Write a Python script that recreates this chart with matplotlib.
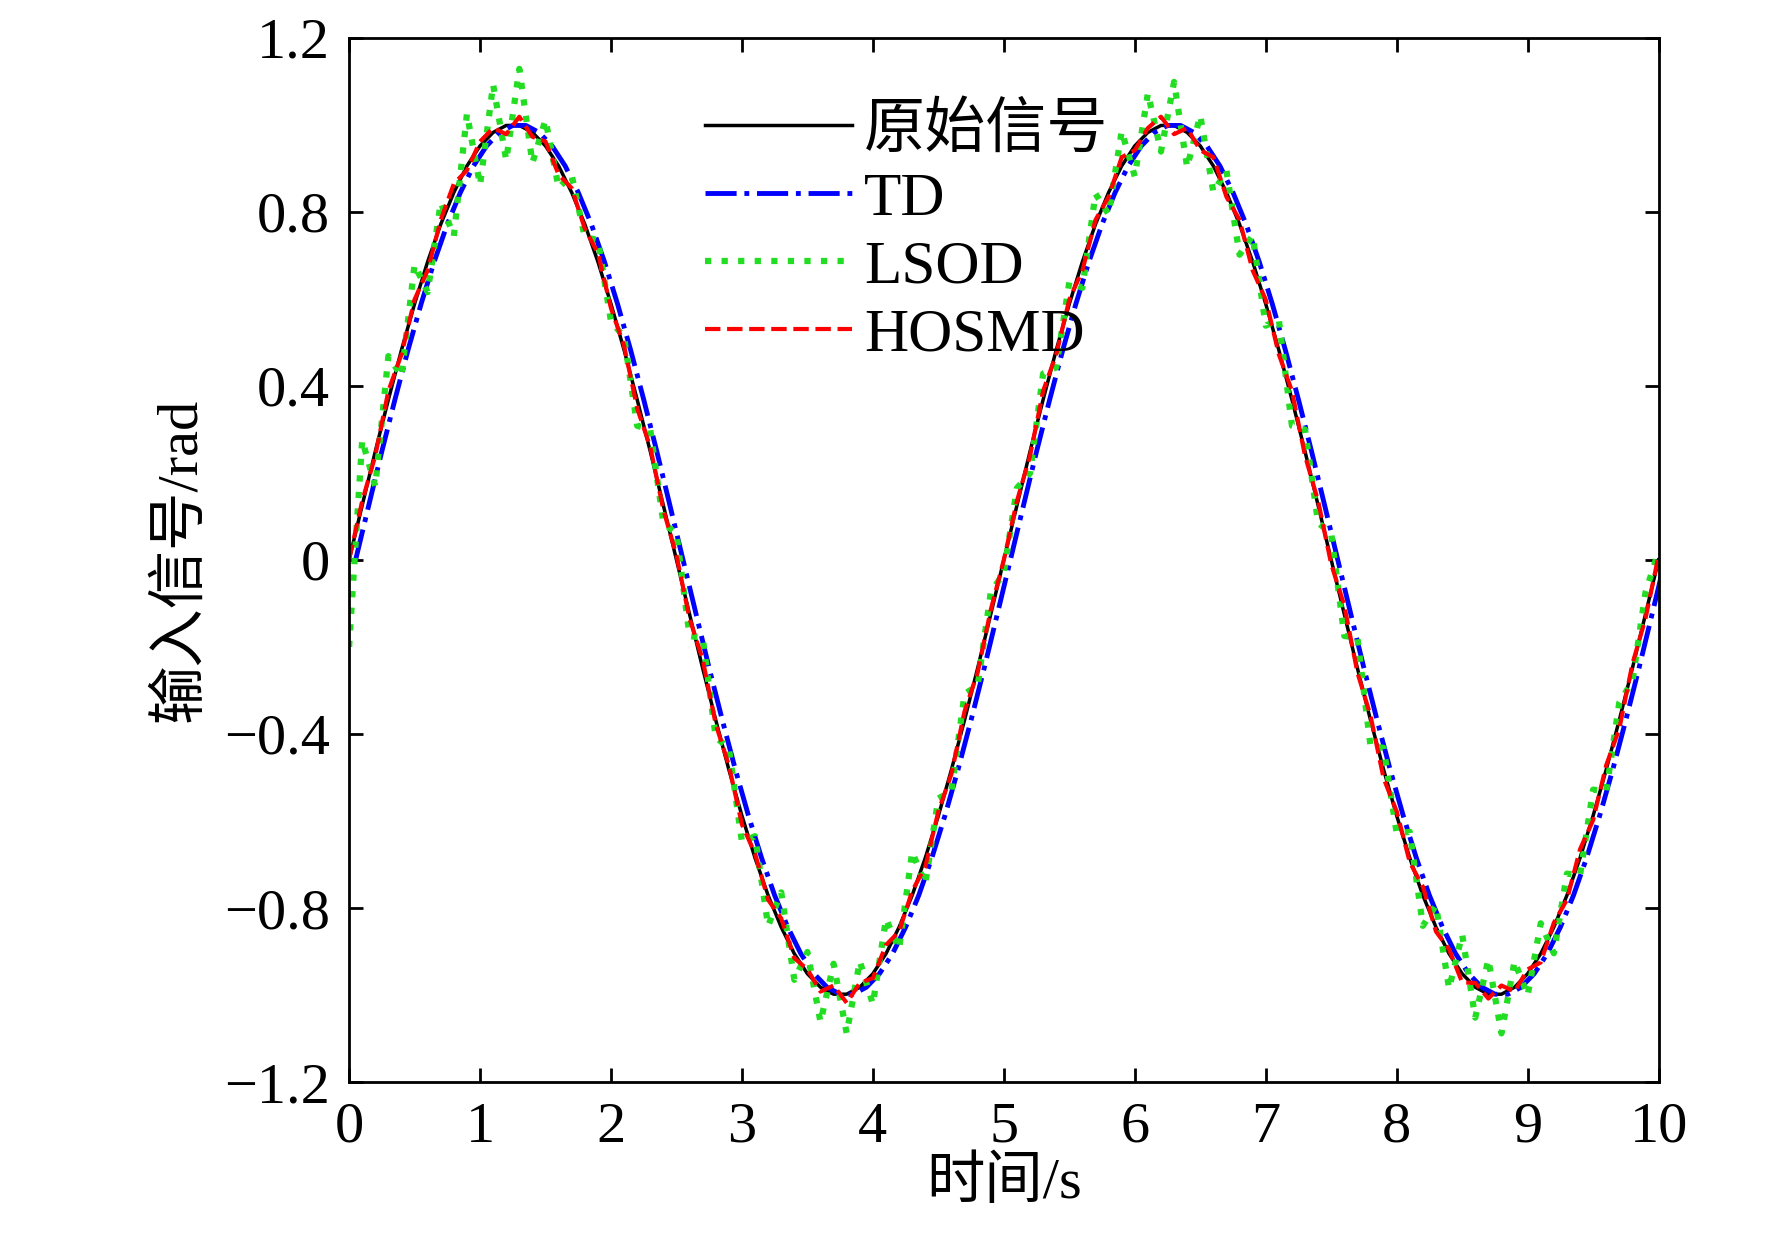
import matplotlib.pyplot as plt
import numpy as np

plt.rcParams['font.family'] = ['Liberation Serif', 'Noto Sans CJK SC']

# time samples, 0.1 s step
time = np.arange(101) * 0.1
# one half period of the original signal (t = 0 .. 2.5 s)
half = [0, .125, .249, .368, .482, .588, .685, .771, .844, .905, .951, .982, .998,
        .998, .982, .951, .905, .844, .771, .685, .588, .482, .368, .249, .125, 0]
period = half + [-v for v in half[1:]]
orig = period + period[1:]

# TD lags the original slightly
td_delay = 0.05
# LSOD noise around the original
lsod_noise = [-.20, .15, -.08, .10, -.06, .09, -.07, .05, -.10, .12, -.09, .11, -.08,
              .13, -.07, .06, -.05, .04, -.03, .05, -.04, .03, -.06, .05, -.04, .06,
              -.05, .07, -.04, .05, -.06, .05, -.07, .08, -.06, .05, -.08, .07, -.09,
              .06, -.07, .08, -.05, .10, -.06, .04, -.05, .06, -.04, .05, -.03,
              .04, -.05, .06, -.04, .05, -.06, .07, -.05, .08, -.07, .09, -.06, .10,
              -.08, .07, -.06, .05, -.07, .06, -.05, .07, -.06, .05, -.04, .06,
              -.05, .07, -.06, .05, -.04, .06, -.07, .05, -.08, .09, -.07, .08, -.09,
              .06, -.05, .07, -.06, .05, -.04, .06, -.05, .04, -.03, .05, .02]
hosmd_noise = [0, .01, -.01, .02, -.01, .01, -.02, .01, .02, -.01, .01, .01, -.02,
               .02, -.01, .01, -.02, .01, -.01, .02, -.01, .01, -.02, .01, -.01, .01,
               -.01, .02, -.01, .01, -.02, .01, -.01, .02, -.01, .01, -.01, .02, -.02,
               .01, -.01, .02, -.01, .01, -.02, .01, -.01, .02, -.01, .01, 0,
               .01, -.01, .02, -.01, .01, -.02, .01, -.01, .02, -.01, .01, .02, -.02,
               .01, -.01, .02, -.01, .01, -.02, .01, -.01, .02, -.01, .01, -.01,
               .02, -.01, .01, -.02, .01, -.01, .02, -.01, .01, -.02, .01, -.01, .02,
               -.01, .01, -.02, .01, -.01, .02, -.01, .01, -.02, .01, -.01, .01]

orig = np.array(orig)
lsod = orig + np.array(lsod_noise)
hosmd = orig + np.array(hosmd_noise)

fig = plt.figure(figsize=(17.72, 12.51), dpi=100)
ax = fig.add_axes([0.197, 0.135, 0.739, 0.835])
ax.plot(time, orig, color='black', lw=2.5, label='原始信号')
ax.plot(time + td_delay, orig, color='blue', lw=3.5, ls='-.', label='TD')
ax.plot(time, lsod, color='#22dd22', lw=4.5, ls=':', label='LSOD')
ax.plot(time, hosmd, color='red', lw=3, ls='--', label='HOSMD')

ax.set_xlim(0, 10)
ax.set_ylim(-1.2, 1.2)
ax.set_xticks(range(11))
ax.set_yticks([-1.2, -0.8, -0.4, 0, 0.4, 0.8, 1.2])
ax.set_yticklabels(['\u22121.2', '\u22120.8', '\u22120.4', '0', '0.4', '0.8', '1.2'])
ax.tick_params(direction='in', top=True, right=True, labelsize=42, length=10, width=2, pad=14)
for s in ax.spines.values():
    s.set_linewidth(2)
ax.set_xlabel('时间/s', fontsize=42, labelpad=2)
ax.set_ylabel('输入信号/rad', fontsize=42, labelpad=12)
ax.legend(loc='upper left', bbox_to_anchor=(0.23, 0.99), frameon=False, fontsize=44,
          handlelength=2.4, handletextpad=0.2, labelspacing=0.2)
fig.savefig('out.png')
